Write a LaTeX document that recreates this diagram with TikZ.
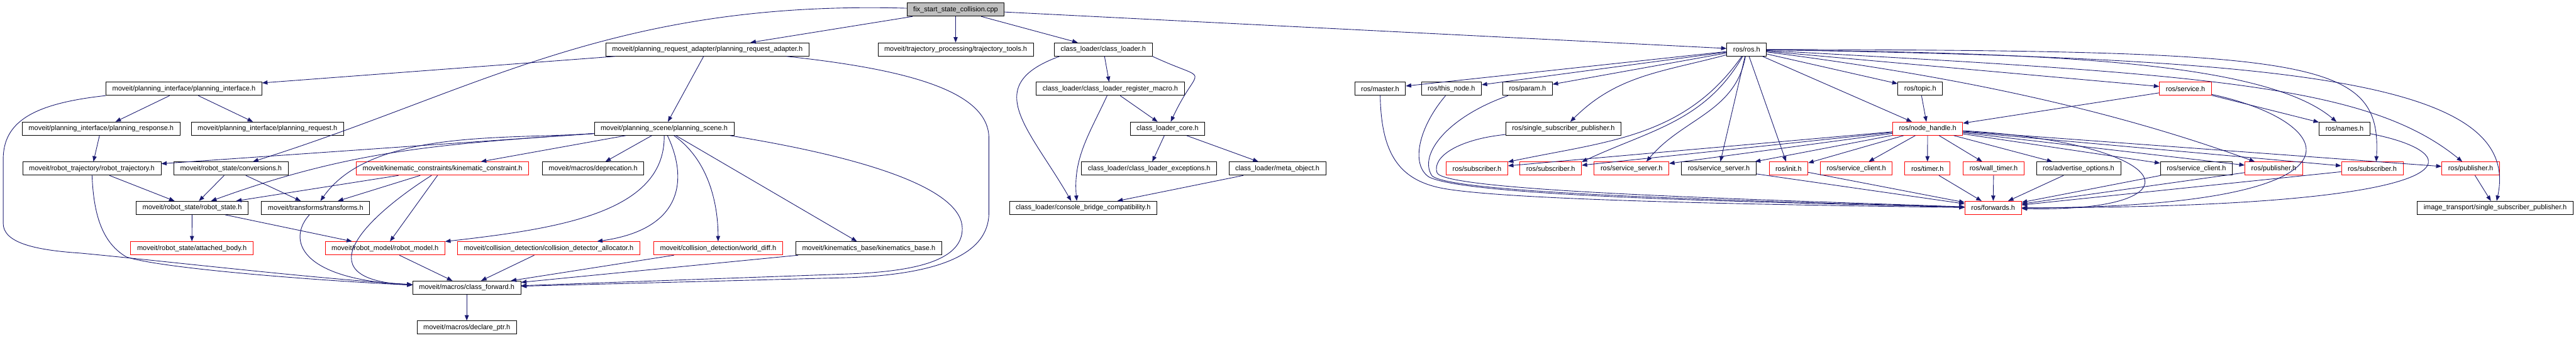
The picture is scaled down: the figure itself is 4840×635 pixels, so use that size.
\documentclass[tikz,border=0pt]{standalone}
\usepackage{fontspec}
\setmainfont{Liberation Sans}
\usetikzlibrary{arrows.meta, positioning}
\definecolor{edgeblue}{HTML}{191970}
\tikzstyle{hdr}=[draw=black,fill=white,rectangle,line width=0.6pt,inner xsep=6.8pt,inner ysep=0pt,minimum height=14.2pt]
\tikzstyle{hdrtrunc}=[hdr,draw=red]
\tikzstyle{hdrroot}=[hdr,fill=gray!50]
\tikzstyle{every node}=[font=\fontsize{7.4pt}{8.5pt}\selectfont]
\tikzstyle{incl}=[->,draw=edgeblue,line width=0.6pt]

\begin{document}
\begin{tikzpicture}[x=0.02cm,y=-0.02cm,>={Triangle[length=5.8pt,width=4.4pt]}]
    \useasboundingbox (0,0) rectangle (4840,635);
    \node[hdrroot] (fix) at (1795.5,18) {fix\_start\_state\_collision.cpp};
    \node[hdr, below of=fix, node distance=1.5cm] (tt) {moveit/trajectory\_processing/trajectory\_tools.h};
    \node[hdr, left of=tt, node distance=9.33cm] (pra) {moveit/planning\_request\_adapter/planning\_request\_adapter.h};
    \node[hdr, right of=tt, node distance=5.55cm] (cl) {class\_loader/class\_loader.h};
    \node[hdr, right of=cl, node distance=24.18cm] (ros) {ros/ros.h};
    \node[hdr] (pi) at (345.5,167) {moveit/planning\_interface/planning\_interface.h};
    \node[hdr, right of=pi, node distance=34.82cm] (clrm) {class\_loader/class\_loader\_register\_macro.h};
    \node[hdr, right of=clrm, node distance=10.14cm] (master) {ros/master.h};
    \node[hdr, right of=master, node distance=2.68cm] (thisnode) {ros/this\_node.h};
    \node[hdr, right of=thisnode, node distance=2.86cm] (param) {ros/param.h};
    \node[hdr, right of=param, node distance=14.76cm] (topic) {ros/topic.h};
    \node[hdrtrunc, right of=topic, node distance=9.97cm] (service) {ros/service.h};
    \node[hdr] (presp) at (190,242) {moveit/planning\_interface/planning\_response.h};
    \node[hdr, right of=presp, node distance=6.25cm] (preq) {moveit/planning\_interface/planning\_request.h};
    \node[hdr, right of=preq, node distance=14.91cm] (ps) {moveit/planning\_scene/planning\_scene.h};
    \node[hdr, right of=ps, node distance=18.92cm] (clcore) {class\_loader\_core.h};
    \node[hdr, right of=clcore, node distance=14.88cm] (ssp) {ros/single\_subscriber\_publisher.h};
    \node[hdrtrunc, right of=ssp, node distance=13.69cm] (nh) {ros/node\_handle.h};
    \node[hdr, right of=nh, node distance=15.67cm] (names) {ros/names.h};
    \node[hdr] (rt) at (172.5,317) {moveit/robot\_trajectory/robot\_trajectory.h};
    \node[hdr, right of=rt, node distance=5.23cm] (conv) {moveit/robot\_state/conversions.h};
    \node[hdrtrunc, right of=conv, node distance=7.95cm] (kc) {moveit/kinematic\_constraints/kinematic\_constraint.h};
    \node[hdr, right of=kc, node distance=5.66cm] (dep) {moveit/macros/deprecation.h};
    \node[hdr, right of=dep, node distance=20.9cm] (clex) {class\_loader/class\_loader\_exceptions.h};
    \node[hdr, right of=clex, node distance=4.82cm] (meta) {class\_loader/meta\_object.h};
    \node[hdrtrunc, right of=meta, node distance=7.5cm] (suba) {ros/subscriber.h};
    \node[hdrtrunc, right of=suba, node distance=2.77cm] (subb) {ros/subscriber.h};
    \node[hdrtrunc, right of=subb, node distance=3.04cm] (ssr) {ros/service\_server.h};
    \node[hdr, right of=ssr, node distance=3.28cm] (ssb) {ros/service\_server.h};
    \node[hdrtrunc, right of=ssb, node distance=2.62cm] (init) {ros/init.h};
    \node[hdrtrunc, right of=init, node distance=2.55cm] (scr) {ros/service\_client.h};
    \node[hdrtrunc, right of=scr, node distance=2.67cm] (timer) {ros/timer.h};
    \node[hdrtrunc, right of=timer, node distance=2.49cm] (wt) {ros/wall\_timer.h};
    \node[hdr, right of=wt, node distance=3.19cm] (adv) {ros/advertise\_options.h};
    \node[hdr, right of=adv, node distance=4.43cm] (scb) {ros/service\_client.h};
    \node[hdrtrunc, right of=scb, node distance=2.91cm] (puba) {ros/publisher.h};
    \node[hdrtrunc, right of=puba, node distance=3.7cm] (subc) {ros/subscriber.h};
    \node[hdrtrunc, right of=subc, node distance=3.7cm] (pubb) {ros/publisher.h};
    \node[hdr] (rs) at (361,391) {moveit/robot\_state/robot\_state.h};
    \node[hdr, right of=rs, node distance=4.64cm] (tf) {moveit/transforms/transforms.h};
    \node[hdr, right of=tf, node distance=28.85cm] (cbc) {class\_loader/console\_bridge\_compatibility.h};
    \node[hdrtrunc, right of=cbc, node distance=34.2cm] (fwd) {ros/forwards.h};
    \node[hdr, right of=fwd, node distance=18.87cm] (it) {image\_transport/single\_subscriber\_publisher.h};
    \node[hdrtrunc] (ab) at (360.5,467) {moveit/robot\_state/attached\_body.h};
    \node[hdrtrunc, right of=ab, node distance=7.26cm] (rm) {moveit/robot\_model/robot\_model.h};
    \node[hdrtrunc, right of=rm, node distance=6.15cm] (cda) {moveit/collision\_detection/collision\_detector\_allocator.h};
    \node[hdrtrunc, right of=cda, node distance=6.37cm] (wd) {moveit/collision\_detection/world\_diff.h};
    \node[hdr, right of=wd, node distance=5.66cm] (kb) {moveit/kinematics\_base/kinematics\_base.h};
    \node[hdr] (cf) at (877,541) {moveit/macros/class\_forward.h};
    \node[hdr, below of=cf, node distance=1.5cm] (dp) {moveit/macros/declare\_ptr.h};
    \draw[incl] (fix) -- (pra);
    \draw[incl] (fix) .. controls (1150,0) and (900,170) .. (conv);
    \draw[incl] (fix) -- (tt);
    \draw[incl] (fix) -- (cl);
    \draw[incl] (fix) -- (ros);
    \draw[incl] (pra) -- (pi);
    \draw[incl] (pra) -- (ps);
    \draw[incl] (pra.-5) .. controls (1700,130) and (1858,170) .. (1858,260) -- (1858,400) .. controls (1858,480) and (1760,515) .. (1600,522) -- (cf);
    \draw[incl] (pi) -- (presp);
    \draw[incl] (pi) -- (preq);
    \draw[incl] (pi.185) .. controls (60,195) and (6,230) .. (6,300) -- (6,420) .. controls (6,455) and (60,470) .. (150,476) .. controls (300,490) and (600,525) .. (cf);
    \draw[incl] (presp) -- (rt);
    \draw[incl] (rt) -- (rs);
    \draw[incl] (rt) .. controls (176,410) and (195,458) .. (237,483) .. controls (300,505) and (600,528) .. (cf);
    \draw[incl] (conv) -- (rs);
    \draw[incl] (conv) -- (tf);
    \draw[incl] (ps) -- (rt);
    \draw[incl] (ps) to[out=184, in=20] (rs);
    \draw[incl] (ps) to[out=184, in=55, looseness=0.8] (tf);
    \draw[incl] (ps) -- (kc);
    \draw[incl] (ps) -- (dep);
    \draw[incl] (ps) .. controls (1250,400) and (1050,430) .. (rm);
    \draw[incl] (ps) .. controls (1290,330) and (1290,430) .. (cda);
    \draw[incl] (ps) .. controls (1330,300) and (1349,380) .. (wd);
    \draw[incl] (ps) -- (kb);
    \draw[incl] (ps.-6) .. controls (1650,300) and (1808,360) .. (1808,430) .. controls (1808,490) and (1720,510) .. (1600,515) -- (cf);
    \draw[incl] (kc) -- (rs);
    \draw[incl] (kc) -- (tf);
    \draw[incl] (kc) -- (rm);
    \draw[incl] (kc) .. controls (700,400) and (560,525) .. (cf);
    \draw[incl] (rs) -- (ab);
    \draw[incl] (rs) -- (rm);
    \draw[incl] (tf) .. controls (540,450) and (560,525) .. (cf);
    \draw[incl] (rm) -- (cf);
    \draw[incl] (cda) -- (cf);
    \draw[incl] (wd) -- (cf);
    \draw[incl] (kb) -- (cf);
    \draw[incl] (cf) -- (dp);
    \draw[incl] (cl) -- (clrm);
    \draw[incl] (cl.189) to[out=200, in=120, looseness=1.5] (cbc.150);
    \draw[incl] (cl.-8) to[out=-25, in=65, looseness=2.5] (clcore);
    \draw[incl] (clrm) -- (clcore);
    \draw[incl] (clrm) to[out=-115, in=95] (cbc.133);
    \draw[incl] (clcore) -- (clex);
    \draw[incl] (clcore) -- (meta);
    \draw[incl] (meta) -- (cbc);
    \draw[incl] (ros) -- (master);
    \draw[incl] (ros) -- (thisnode);
    \draw[incl] (ros) -- (param);
    \draw[incl] (ros) to[out=195, in=45] (ssp);
    \draw[incl] (ros) to[out=-125, in=12] (suba);
    \draw[incl] (ros) to[out=-120, in=25] (subb.12);
    \draw[incl] (ros) to[out=-100, in=50] (ssr.25);
    \draw[incl] (ros) -- (ssb);
    \draw[incl] (ros) -- (init);
    \draw[incl] (ros) -- (topic);
    \draw[incl] (ros) -- (nh);
    \draw[incl] (ros) -- (service);
    \draw[incl] (ros) .. controls (3650,140) and (3950,200) .. (puba);
    \draw[incl] (ros) .. controls (3800,100) and (4250,110) .. (names);
    \draw[incl] (ros) .. controls (4350,95) and (4475,110) .. (subc.60);
    \draw[incl] (ros) .. controls (4150,140) and (4450,160) .. (pubb);
    \draw[incl] (ros) .. controls (4300,110) and (4740,150) .. (it);
    \draw[incl] (topic) -- (nh);
    \draw[incl] (service) -- (nh);
    \draw[incl] (service) -- (names);
    \draw[incl] (service) .. controls (4400,230) and (4480,390) .. (fwd);
    \draw[incl] (nh) -- (suba);
    \draw[incl] (nh) -- (subb);
    \draw[incl] (nh) -- (ssr);
    \draw[incl] (nh) -- (ssb);
    \draw[incl] (nh) -- (init);
    \draw[incl] (nh) -- (scr);
    \draw[incl] (nh) -- (timer);
    \draw[incl] (nh) -- (wt);
    \draw[incl] (nh) -- (adv);
    \draw[incl] (nh) -- (scb);
    \draw[incl] (nh) -- (puba);
    \draw[incl] (nh) -- (subc);
    \draw[incl] (nh) -- (pubb);
    \draw[incl] (nh) .. controls (4100,270) and (4140,400) .. (fwd);
    \draw[incl] (master) .. controls (2595,290) and (2630,335) .. (2700,352) .. controls (2800,376) and (3300,385) .. (fwd);
    \draw[incl] (thisnode) .. controls (2665,240) and (2650,310) .. (2685,333) .. controls (2760,370) and (3300,380) .. (fwd);
    \draw[incl] (param) .. controls (2720,220) and (2665,290) .. (2690,330) .. controls (2720,365) and (3300,378) .. (fwd);
    \draw[incl] (ssp) .. controls (2740,262) and (2690,295) .. (2700,325) .. controls (2715,360) and (3300,375) .. (fwd);
    \draw[incl] (ssb) -- (fwd);
    \draw[incl] (init) -- (fwd);
    \draw[incl] (timer) -- (fwd);
    \draw[incl] (wt) -- (fwd);
    \draw[incl] (adv) -- (fwd);
    \draw[incl] (scb) -- (fwd);
    \draw[incl] (puba) -- (fwd);
    \draw[incl] (subc) -- (fwd);
    \draw[incl] (names) .. controls (4650,290) and (4660,390) .. (fwd);
    \draw[incl] (pubb) -- (it);
\end{tikzpicture}
\end{document}
